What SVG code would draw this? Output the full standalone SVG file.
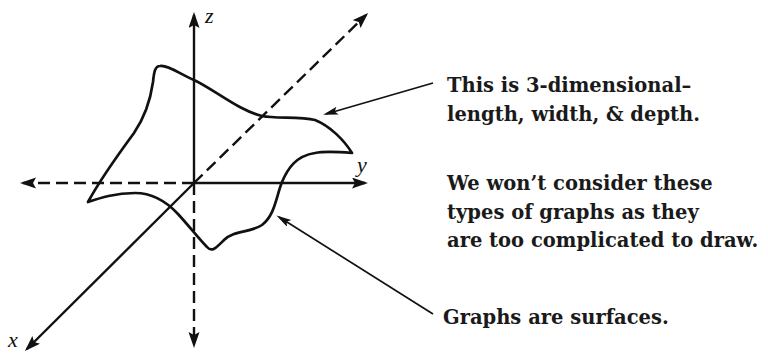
<svg xmlns="http://www.w3.org/2000/svg" width="768" height="354" viewBox="0 0 768 354">
  <defs>
    <marker id="ah" markerUnits="userSpaceOnUse" markerWidth="18" markerHeight="12" refX="13" refY="5.5" orient="auto">
      <path d="M0,0 L16,5.5 L0,11 L3,5.5 Z" fill="#111"/>
    </marker>
    <marker id="ah2" markerUnits="userSpaceOnUse" markerWidth="16" markerHeight="10" refX="12" refY="4" orient="auto">
      <path d="M0,0 L15,4 L0,8 L3,4 Z" fill="#111"/>
    </marker>
  </defs>
  <style>
    .ax { stroke: #111; stroke-width: 2.4; fill: none; }
    .dash { stroke-dasharray: 12 6; }
    .surf { stroke: #111; stroke-width: 2.7; fill: none; stroke-linejoin: round; }
    .ptr { stroke: #111; stroke-width: 1.7; fill: none; }
    .lbl { font-family: "Liberation Serif", "DejaVu Serif", serif; font-style: italic; font-size: 22px; fill: #111; }
    .note { font-family: "DejaVu Serif", serif; font-weight: bold; font-size: 19.5px; fill: #1a1a1a; }
  </style>
  <rect width="768" height="354" fill="#fff"/>

  <g id="surface">
    <path class="surf" d="M160,66 C168,65 180,74 194,80 C215,90 238,110 262,116 C276,119 300,116 315,120 C330,126 344,140 352,153 C340,152 325,151 315,153 C296,156 288,168 282,182 C276,197 275,215 262,225 C250,233 234,230 224,240 C217,247 212,253 207,247 C200,240 189,226 178,214 C165,200 150,193 135,193 C115,193 100,198 88,202 C100,180 120,152 134,133 C147,114 151,96 153,82 C154,72 155,66 160,66 Z"/>
  </g>

  <g id="axes">
    <line class="ax" x1="194" y1="183" x2="194" y2="15" marker-end="url(#ah)"/>
    <line class="ax dash" x1="194" y1="183" x2="194" y2="345" marker-end="url(#ah)"/>
    <line class="ax" x1="194" y1="183" x2="365" y2="183" marker-end="url(#ah)"/>
    <line class="ax dash" x1="194" y1="183" x2="23" y2="183" marker-end="url(#ah)"/>
    <line class="ax dash" x1="194" y1="183" x2="366" y2="15" marker-end="url(#ah)"/>
    <line class="ax" x1="194" y1="183" x2="27" y2="349" marker-end="url(#ah)"/>
  </g>

  <g id="axis-labels">
    <text class="lbl" x="205" y="23">z</text>
    <text class="lbl" x="357" y="172">y</text>
    <text class="lbl" x="8" y="347">x</text>
  </g>

  <g id="connectors">
    <line class="ptr" x1="433" y1="83" x2="326" y2="114" marker-end="url(#ah2)"/>
    <line class="ptr" x1="433" y1="314" x2="279" y2="217" marker-end="url(#ah2)"/>
  </g>

  <g id="note-3d">
    <text class="note" x="447" y="92">This is 3-dimensional–</text>
    <text class="note" x="447" y="121">length, width, &amp; depth.</text>
  </g>
  <g id="note-complicated">
    <text class="note" x="447" y="190">We won’t consider these</text>
    <text class="note" x="447" y="219">types of graphs as they</text>
    <text class="note" x="447" y="247">are too complicated to draw.</text>
  </g>
  <g id="note-surfaces">
    <text class="note" x="443" y="324">Graphs are surfaces.</text>
  </g>
</svg>
